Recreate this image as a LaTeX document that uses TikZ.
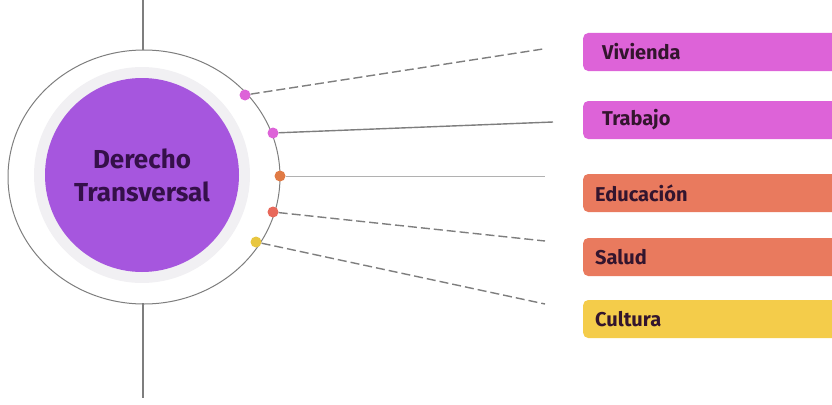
\documentclass[tikz,border=0pt]{standalone}
\usepackage{fontspec}
\setmainfont{Fira Sans}
\definecolor{hubpurple}{HTML}{A656DE}
\definecolor{hubink}{HTML}{35104A}
\definecolor{ringgray}{HTML}{F1F0F3}
\definecolor{linegray}{HTML}{7E7E7E}
\definecolor{tagpink}{HTML}{DD63D8}
\definecolor{tagsalmon}{HTML}{E97A5E}
\definecolor{tagyellow}{HTML}{F4CC4A}
\definecolor{dotorange}{HTML}{E07A45}
\definecolor{dotred}{HTML}{E8685A}
\definecolor{dotyellow}{HTML}{E8C640}
\definecolor{tagink}{HTML}{33152E}
\tikzset{
	dot/.style={circle, inner sep=0pt, minimum size=11pt},
	tag/.style={anchor=west, rounded corners=5pt, minimum height=38pt, text width=250pt,
		inner xsep=12pt, font=\bfseries\fontsize{20}{22}\selectfont, text=tagink},
	link/.style={line width=1.4pt, draw=linegray, dash pattern=on 9pt off 4pt}
}
\begin{document}
\begin{tikzpicture}[x=1pt, y=-1pt]
	\useasboundingbox (0,0) rectangle (832,404);
	\clip (0,0) rectangle (832,404);

	% axis through the hub
	\draw[linegray, line width=1.5pt] (143,0) -- (143,50);
	\draw[linegray, line width=1.5pt] (143,303) -- (143,398);

	% rings
	\draw[linegray, line width=1pt] (144,177) ellipse (136pt and 127pt);
	\fill[ringgray] (142,175) circle (108pt);
	\node[circle, fill=hubpurple, minimum size=194pt, inner sep=0pt, align=center,
		font=\bfseries\fontsize{26}{33}\selectfont, text=hubink] (hub) at (142,175) {Derecho\\Transversal};

	% tags
	\node[tag, fill=tagpink, inner xsep=19pt] (vivienda) at (583,52) {Vivienda};
	\node[tag, fill=tagpink, inner xsep=19pt] (trabajo) at (583,120) {Trabajo};
	\node[tag, fill=tagsalmon] (educacion) at (583,193) {Educación};
	\node[tag, fill=tagsalmon] (salud) at (583,257) {Salud};
	\node[tag, fill=tagyellow] (cultura) at (583,319) {Cultura};

	% line ends
	\coordinate (endviv) at (543,49);
	\coordinate (endtra) at (553,122);
	\coordinate (endedu) at (545,176);
	\coordinate (endsal) at (545,241);
	\coordinate (endcul) at (545,304);

	% dots on the ring
	\node[dot, fill=tagpink] (dotviv) at (245,95) {};
	\node[dot, fill=tagpink] (dottra) at (273,133) {};
	\node[dot, fill=dotorange] (dotedu) at (280,176) {};
	\node[dot, fill=dotred] (dotsal) at (273,212) {};
	\node[dot, fill=dotyellow] (dotcul) at (256,242) {};

	\draw[link] (dotviv) -- (endviv);
	\draw[linegray, line width=1.4pt] (dottra) -- (endtra);
	\draw[linegray!60, line width=1pt] (dotedu) -- (endedu);
	\draw[link] (dotsal) -- (endsal);
	\draw[link] (dotcul) -- (endcul);
\end{tikzpicture}
\end{document}
